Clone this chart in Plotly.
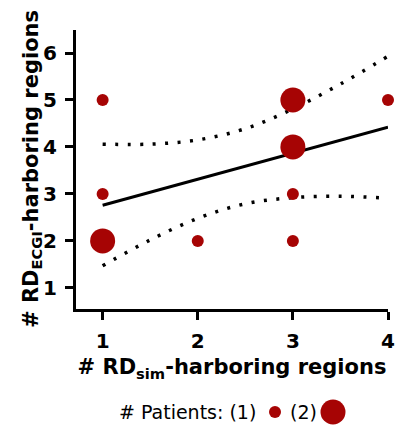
import plotly.graph_objects as go

# Data
x_vals = [1, 1, 1, 2, 3, 3, 3, 3, 4]
y_vals = [5, 3, 2, 2, 5, 4, 3, 2, 5]
patients = [1, 1, 2, 1, 2, 2, 1, 1, 1]

fit_x = [1, 4]
fit_y = [2.76, 4.42]

band_x = [1, 1.5, 2, 2.5, 3, 3.5, 4]
band_upper = [4.06, 4.06, 4.15, 4.39, 4.81, 5.34, 5.93]
band_lower = [1.47, 2.02, 2.48, 2.79, 2.92, 2.95, 2.91]

x_ticks = [1, 2, 3, 4]
y_ticks = [1, 2, 3, 4, 5, 6]

x_title = "# RD<sub>sim</sub>-harboring regions"
y_title = "# RD<sub>ECGI</sub>-harboring regions"
key_text_1 = "# Patients: (1)"
key_text_2 = "(2)"

RED = "#a60404"
FONT = "DejaVu Sans, Liberation Sans, Arial, sans-serif"
size_map = {1: 12, 2: 25}

W, H = 397, 431
L, T, PW, PH = 76, 30, 312, 279

fig = go.Figure()

for band in (band_upper, band_lower):
    fig.add_trace(go.Scatter(
        x=band_x, y=band, mode="lines",
        line=dict(color="black", width=3.5, dash="3px,9.5px", shape="spline"),
        hoverinfo="skip", showlegend=False, cliponaxis=False))

fig.add_trace(go.Scatter(
    x=fit_x, y=fit_y, mode="lines",
    line=dict(color="black", width=3),
    showlegend=False, cliponaxis=False))

fig.add_trace(go.Scatter(
    x=x_vals, y=y_vals, mode="markers",
    marker=dict(color=RED, size=[size_map[p] for p in patients],
                opacity=1, line=dict(width=0)),
    showlegend=False, cliponaxis=False))

fig.update_layout(
    width=W, height=H,
    margin=dict(l=L, r=W - L - PW, t=T, b=H - T - PH),
    plot_bgcolor="white", paper_bgcolor="white",
    font=dict(family=FONT, color="black"),
    showlegend=False,
)

fig.update_xaxes(
    range=[0.72, 4.0], tickvals=x_ticks, ticktext=[str(v) for v in x_ticks],
    showline=True, linewidth=3, linecolor="black",
    ticks="outside", ticklen=8, tickwidth=3, tickcolor="black",
    ticklabelstandoff=4,
    showgrid=False, zeroline=False, automargin=False,
    tickfont=dict(family=FONT, size=20, color="black", weight="bold"),
    title=dict(text=x_title,
               font=dict(family=FONT, size=21, color="black", weight="bold"),
               standoff=8),
)
fig.update_yaxes(
    range=[0.55, 6.49], tickvals=y_ticks, ticktext=[str(v) for v in y_ticks],
    showline=True, linewidth=3, linecolor="black",
    ticks="outside", ticklen=8, tickwidth=3, tickcolor="black",
    ticklabelstandoff=4,
    showgrid=False, zeroline=False, automargin=False,
    tickfont=dict(family=FONT, size=20, color="black", weight="bold"),
)

# helpers: page pixels -> paper coordinates
def px_x(px):
    return (px - L) / PW

def px_y(py):
    return (T + PH - py) / PH

# y-axis title
fig.add_annotation(x=px_x(32), y=px_y(169), xref="paper", yref="paper",
                   text=y_title, textangle=-90, showarrow=False,
                   xanchor="center", yanchor="middle",
                   font=dict(family=FONT, size=21, color="black", weight="bold"))

# Bottom size key
fig.add_annotation(x=px_x(258), y=px_y(412), xref="paper", yref="paper",
                   text=key_text_1, showarrow=False, xanchor="right", yanchor="middle",
                   font=dict(family=FONT, size=19, color="black"))
fig.add_annotation(x=px_x(303), y=px_y(412), xref="paper", yref="paper",
                   text=key_text_2, showarrow=False, xanchor="center", yanchor="middle",
                   font=dict(family=FONT, size=19, color="black"))
for cx, d in ((275, size_map[1]), (333, size_map[2])):
    fig.add_shape(type="circle", xref="paper", yref="paper",
                  xsizemode="pixel", ysizemode="pixel",
                  xanchor=px_x(cx), yanchor=px_y(412),
                  x0=-d / 2, x1=d / 2, y0=-d / 2, y1=d / 2,
                  fillcolor=RED, line=dict(width=0))

fig.write_html(
    "out.html",
    config={"displayModeBar": False},
    post_script="document.body.style.margin='0';document.body.style.overflow='hidden';",
)
